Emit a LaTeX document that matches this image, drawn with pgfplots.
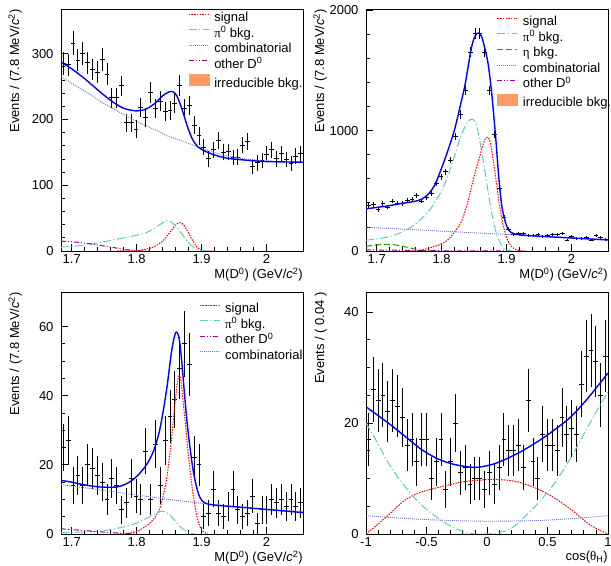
\documentclass[border=0pt]{standalone}
\usepackage{fontspec}
\setmainfont{Liberation Sans}
\newfontfamily\grk{Liberation Serif}
\usepackage{pgfplots}
\usepackage{pgfplotstable}
\pgfplotsset{compat=1.18}

\definecolor{sigcol}{RGB}{255,0,0}
\definecolor{picol}{RGB}{95,200,200}
\definecolor{etacol}{RGB}{51,153,0}
\definecolor{combcol}{RGB}{120,120,200}
\definecolor{othcol}{RGB}{150,0,150}
\definecolor{irrcol}{RGB}{255,153,102}
\definecolor{totcol}{RGB}{0,0,255}

\newcommand{\fs}{\fontsize{13bp}{15bp}\selectfont}
\newcommand{\mlabel}{M(D\textsuperscript{0}) (GeV/\textit{c}\textsuperscript{2})}
\newcommand{\evlabel}{Events / (7.8 MeV/\textit{c}\textsuperscript{2})}

% mass spectra: bin centre, then value and error for the three mass plots
\pgfplotstableread{
x y1 e1 y2 e2 y3 e3
1.6872 285 16.9 378 19.4 25 6.75
1.6947 283 16.8 387 19.7 27 7.0
1.7021 316 17.8 342 18.5 14 5.3
1.7096 290 17.0 392 19.8 17 5.7
1.7171 300 17.3 364 19.1 14 5.3
1.7245 286 16.9 415 20.4 20 6.1
1.7320 276 16.6 398 19.9 19 6.0
1.7394 272 16.5 392 19.8 17 5.7
1.7469 291 17.1 420 20.5 15 5.5
1.7544 269 16.4 428 20.7 10 4.6
1.7618 233 15.3 462 21.5 16 5.6
1.7693 233 15.3 415 20.4 14 5.3
1.7767 251 15.8 448 21.2 7 4.0
1.7842 195 14.0 482 22.0 9 4.45
1.7917 195 14.0 560 23.7 16 5.6
1.7991 185 13.6 616 24.8 11 4.8
1.8066 218 14.8 658 25.7 10 4.6
1.8141 203 14.2 756 27.5 24 6.6
1.8215 241 15.5 952 30.9 10 4.6
1.8290 217 14.7 1134 33.7 26 6.9
1.8364 228 15.1 1336 36.6 14 5.3
1.8439 212 14.6 1653 40.7 27 7.0
1.8514 214 14.6 1807 42.5 34 7.7
1.8588 225 15.0 1807 42.5 39 8.2
1.8663 252 15.9 1653 40.7 48 9.0
1.8737 216 14.7 1331 36.5 55 9.5
1.8812 221 14.9 966 31.1 49 9.05
1.8887 191 13.8 518 22.8 22 6.4
1.8961 175 13.2 280 16.7 20 6.1
1.9036 158 12.6 182 13.5 5 3.6
1.9110 140 11.8 140 11.8 6 3.8
1.9185 154 12.4 146 12.1 13 5.1
1.9260 168 13.0 146 12.1 6 3.8
1.9334 150 12.2 126 11.2 5 3.6
1.9409 151 12.3 132 11.5 8 4.25
1.9484 142 11.9 134 11.6 13 5.1
1.9558 143 12.0 118 10.9 7 4.0
1.9633 161 12.7 126 11.2 5 3.6
1.9707 167 12.9 140 11.8 6 3.8
1.9782 128 11.3 134 11.6 11 4.8
1.9857 134 11.6 146 12.1 3 3.0
1.9931 138 11.7 90 9.5 7 4.0
2.0006 147 12.1 118 10.9 7 4.0
2.0080 154 12.4 104 10.2 10 4.6
2.0155 140 11.8 104 10.2 9 4.45
2.0230 148 12.2 112 10.6 10 4.6
2.0304 139 11.8 90 9.5 8 4.25
2.0379 133 11.5 126 11.2 10 4.6
2.0453 144 12.0 112 10.6 8 4.25
2.0528 148 12.2 95 9.7 9 4.45
}\massdata

% helicity angle
\pgfplotstableread{
x y e
-0.98 17 4.8
-0.94 26 5.9
-0.90 24 5.7
-0.86 25 5.8
-0.82 22 5.5
-0.78 24 5.7
-0.74 23 5.6
-0.70 21 5.3
-0.66 16 4.7
-0.62 17 4.8
-0.58 13 4.3
-0.54 17 4.8
-0.50 17 4.8
-0.46 10 3.8
-0.42 13 4.3
-0.38 17 4.8
-0.34 8 3.4
-0.30 13 4.3
-0.26 20 5.2
-0.22 11 3.9
-0.18 12 4.1
-0.14 9 3.6
-0.10 10 3.8
-0.06 10 3.8
-0.02 8 3.4
0.02 11 3.9
0.06 9 3.6
0.10 12 4.1
0.14 17 4.8
0.18 15 4.6
0.22 15 4.6
0.26 16 4.7
0.30 12 4.1
0.34 24 5.7
0.38 13 4.3
0.42 10 3.8
0.46 18 5.0
0.50 16 4.7
0.54 16 4.7
0.58 15 4.6
0.62 21 5.3
0.66 18 5.0
0.70 19 5.1
0.74 18 5.0
0.78 27 6.0
0.82 32 6.5
0.86 33 6.6
0.90 31 6.4
0.94 25 5.8
0.98 32 6.5
}\angdata

\pgfplotsset{
  rootax/.style={
    width=242bp, height=242bp, scale only axis, anchor=south west,
    axis line style={line width=0.8bp},
    tick align=inside, tick pos=left,
    major tick length=7bp, minor tick length=3.5bp,
    tick style={black, line width=0.8bp},
    tick label style={font=\fs},
    yticklabel style={xshift=-4bp},
    /pgf/number format/assume math mode=true,
    /pgf/number format/1000 sep={},
    label style={font=\fs},
    xlabel style={at={(rel axis cs:1,0)}, anchor=north east, inner sep=0pt, yshift=-17bp},
    ylabel style={at={([xshift=-39bp]rel axis cs:0,1)}, anchor=south east, inner sep=0pt},
    legend style={draw=none, fill=none, anchor=north west, font=\fs,
      inner sep=0pt, row sep=3bp,
      nodes={inner sep=0pt, text height=9.5bp, text depth=3bp},
      /tikz/every odd column/.append style={column sep=5bp}},
    legend cell align=left,
    legend image code/.code={\draw[##1] (0bp,4bp) -- (20bp,4bp);},
  },
  massax/.style={rootax, xmin=1.6835, xmax=2.0563,
    xtick={1.7,1.8,1.9,2}, minor x tick num=4, xlabel={\mlabel}, ylabel={\evlabel}},
  dat/.style={black, only marks, mark=*, mark size=0pt, forget plot,
    error bars/.cd, x dir=both, x fixed=#1, y dir=both, y explicit,
    error mark=none, error bar style={black, line width=0.9bp}},
  tot/.style={totcol, line width=1.4bp, smooth, forget plot},
  sig/.style={sigcol, line width=1bp, dash pattern=on 1.5bp off 1.2bp, smooth},
  pibk/.style={picol, line width=1bp, dash pattern=on 8bp off 2.5bp on 1.2bp off 2.5bp, smooth},
  etabk/.style={etacol, line width=1.1bp, dash pattern=on 6bp off 3bp, smooth},
  comb/.style={combcol, line width=0.9bp, dash pattern=on 1bp off 1bp, smooth},
  othd/.style={othcol, line width=1bp, dash pattern=on 5bp off 2bp on 1bp off 2bp on 1bp off 2bp, smooth},
}

\begin{document}
\begin{tikzpicture}
\path[use as bounding box] (0,0) rectangle (611bp,566bp);

% ---------------- top left ----------------
\begin{axis}[massax, at={(61bp,315bp)}, ymin=0, ymax=368,
  ytick={0,100,200,300}, minor y tick num=4,
  legend style={at={(rel axis cs:0.525,0.988)}}]
\addplot[dat=0.00373] table[x=x, y=y1, y error=e1] {\massdata};
\addplot[sig] coordinates {(1.77,0) (1.80,0.5) (1.81,2) (1.82,4) (1.83,8) (1.84,15) (1.85,27) (1.857,36) (1.863,42) (1.868,43) (1.873,39) (1.879,29) (1.885,18) (1.892,7) (1.898,2) (1.905,0) (1.92,0)};
\addlegendentry{signal}
\addplot[pibk] coordinates {(1.6835,6) (1.70,7) (1.72,9) (1.744,13) (1.765,17) (1.785,21) (1.80,24) (1.815,28) (1.83,36) (1.84,43) (1.846,46) (1.852,45) (1.86,38) (1.868,28) (1.877,16) (1.885,8) (1.892,3) (1.90,0.5) (1.91,0)};
\addlegendentry{{\grk π}\textsuperscript{0} bkg.}
\addplot[comb] coordinates {(1.6835,265) (1.70,255) (1.72,243) (1.733,235) (1.75,224) (1.77,213) (1.785,205) (1.80,197) (1.82,188) (1.836,181) (1.85,174) (1.874,166) (1.90,156) (1.93,147) (1.96,141) (2.0,137) (2.0563,135)};
\addlegendentry{combinatorial}
\addplot[othd] coordinates {(1.6835,15) (1.70,14) (1.72,12) (1.744,8.5) (1.76,6) (1.775,3.5) (1.79,1.5) (1.80,0.5) (1.82,0)};
\addlegendentry{other D\textsuperscript{0}}
\addlegendimage{legend image code/.code={\fill[irrcol] (0bp,-1.5bp) rectangle (20bp,9.5bp);}}
\addlegendentry{irreducible bkg.}
\addplot[tot] coordinates {(1.6835,287) (1.70,277) (1.72,262) (1.74,245) (1.76,229) (1.78,217) (1.80,213) (1.815,216) (1.83,226) (1.84,236) (1.85,242) (1.856,242) (1.862,236) (1.87,215) (1.878,190) (1.886,170) (1.895,158) (1.905,152) (1.92,146) (1.94,141) (1.97,138) (2.0,136) (2.0563,135)};
\end{axis}

% ---------------- top right ----------------
\begin{axis}[massax, at={(366bp,315bp)}, ymin=0, ymax=2010,
  ytick={0,1000,2000}, minor y tick num=4,
  legend style={at={(rel axis cs:0.54,0.971)}}]
\addplot[dat=0.00373] table[x=x, y=y2, y error=e2] {\massdata};
\addplot[sig] coordinates {(1.75,0) (1.76,3) (1.774,14) (1.79,40) (1.80,60) (1.81,95) (1.82,160) (1.831,252) (1.84,400) (1.846,532) (1.853,680) (1.86,810) (1.866,920) (1.871,944) (1.875,900) (1.879,770) (1.883,620) (1.887,460) (1.891,320) (1.895,210) (1.899,130) (1.903,75) (1.908,35) (1.913,14) (1.92,3) (1.93,0)};
\addlegendentry{signal}
\addplot[pibk] coordinates {(1.6835,90) (1.70,100) (1.72,120) (1.74,160) (1.76,225) (1.78,330) (1.79,410) (1.80,500) (1.81,630) (1.82,790) (1.83,960) (1.84,1070) (1.848,1095) (1.854,1040) (1.86,880) (1.867,650) (1.872,480) (1.877,320) (1.882,190) (1.887,105) (1.892,50) (1.897,18) (1.903,4) (1.91,0)};
\addlegendentry{{\grk π}\textsuperscript{0} bkg.}
\addplot[etabk] coordinates {(1.6835,38) (1.695,48) (1.71,55) (1.725,52) (1.74,40) (1.755,20) (1.765,8) (1.775,2) (1.785,0)};
\addlegendentry{{\grk η} bkg.}
\addplot[comb] coordinates {(1.6835,197) (1.75,179) (1.80,165) (1.85,151) (1.90,138) (1.95,124) (2.0,110) (2.0563,95)};
\addlegendentry{combinatorial}
\addplot[othd] coordinates {(1.6835,10) (1.72,7) (1.76,4) (1.80,2) (1.85,0.5) (1.90,0)};
\addlegendentry{other D\textsuperscript{0}}
\addlegendimage{legend image code/.code={\fill[irrcol] (0bp,-1.5bp) rectangle (20bp,9.5bp);}}
\addlegendentry{irreducible bkg.}
\addplot[tot] coordinates {(1.6835,350) (1.70,362) (1.72,377) (1.733,390) (1.75,405) (1.76,414) (1.77,432) (1.78,475) (1.79,555) (1.80,690) (1.81,840) (1.82,1010) (1.828,1190) (1.836,1380) (1.846,1690) (1.852,1790) (1.857,1810) (1.862,1775) (1.868,1650) (1.872,1541) (1.877,1317) (1.883,960) (1.888,616) (1.893,364) (1.90,210) (1.907,154) (1.92,134) (1.94,126) (1.97,117) (2.0,108) (2.03,99) (2.0563,92)};
\end{axis}

% ---------------- bottom left ----------------
\begin{axis}[massax, at={(61bp,32bp)}, ymin=0, ymax=70,
  ytick={0,20,40,60}, minor y tick num=3,
  legend style={at={(rel axis cs:0.57,0.955)}}]
\addplot[dat=0.00373] table[x=x, y=y3, y error=e3] {\massdata};
\addplot[sig] coordinates {(1.77,0) (1.79,0.3) (1.80,0.7) (1.82,3.1) (1.835,7) (1.845,14.7) (1.852,24.4) (1.858,36) (1.864,45) (1.868,44.5) (1.874,34) (1.88,22.5) (1.886,12.8) (1.893,5) (1.90,1.2) (1.91,0)};
\addlegendentry{signal}
\addplot[pibk] coordinates {(1.6835,0.4) (1.72,0.6) (1.75,1) (1.79,2.5) (1.815,4.5) (1.83,6) (1.84,6.6) (1.85,5.7) (1.86,3.6) (1.87,1.6) (1.88,0.4) (1.89,0)};
\addlegendentry{{\grk π}\textsuperscript{0} bkg.}
\addplot[othd] coordinates {(1.6835,1.5) (1.72,1) (1.76,0.4) (1.80,0)};
\addlegendentry{other D\textsuperscript{0}}
\addplot[comb] coordinates {(1.6835,14.3) (1.75,12.6) (1.80,11.3) (1.85,10) (1.90,8.9) (1.95,8) (2.0,7.2) (2.0563,6.5)};
\addlegendentry{combinatorial}
\addplot[tot] coordinates {(1.6835,15.5) (1.70,15) (1.72,14.2) (1.744,13.6) (1.769,13.6) (1.785,14.6) (1.80,16.6) (1.815,20) (1.826,24) (1.836,30.5) (1.846,41.5) (1.854,53) (1.860,58.2) (1.865,57) (1.869,51) (1.874,40) (1.879,30) (1.887,18.5) (1.895,11.8) (1.903,9.2) (1.918,8.4) (1.95,7.9) (2.0,7.1) (2.0563,6.2)};
\end{axis}

% ---------------- bottom right ----------------
\begin{axis}[rootax, at={(366bp,32bp)}, xmin=-1, xmax=1, ymin=0, ymax=43.6,
  xtick={-1,-0.5,0,0.5,1}, minor x tick num=4,
  ytick={0,20,40}, minor y tick num=3,
  xlabel={cos({\grk θ}\textsubscript{H})}, ylabel={Events / ( 0.04 )}]
\addplot[dat=0.02] table[x=x, y=y, y error=e] {\angdata};
\addplot[sig, forget plot] coordinates {(-1,0) (-0.9,1.8) (-0.8,3.7) (-0.68,6.1) (-0.55,7.5) (-0.4,8.4) (-0.2,9.4) (0,9.8) (0.1,9.8) (0.2,9.6) (0.3,9.1) (0.42,8.1) (0.55,6.6) (0.7,4.3) (0.835,1.9) (0.92,0.8) (1,0)};
\addplot[pibk, forget plot] coordinates {(-1,20) (-0.9,16.2) (-0.816,12.8) (-0.68,8.6) (-0.54,5.2) (-0.4,2.8) (-0.265,1) (-0.13,0.1) (-0.02,0) (0.09,0.2) (0.2,1) (0.31,3.1) (0.42,5.5) (0.56,9.2) (0.7,14) (0.835,19.4) (1,25.7)};
\addplot[comb, forget plot] coordinates {(-1,3.3) (-0.75,2.9) (-0.5,2.6) (-0.25,2.4) (0,2.3) (0.25,2.35) (0.5,2.5) (0.75,2.85) (1,3.3)};
\addplot[tot] coordinates {(-1,22.9) (-0.816,20) (-0.678,17.6) (-0.54,15.2) (-0.403,13.5) (-0.265,12.5) (-0.1,12) (0.037,12.5) (0.147,13.4) (0.285,14.9) (0.422,16.7) (0.56,18.8) (0.697,21.2) (0.835,24.5) (1,29)};
\end{axis}
\end{tikzpicture}
\end{document}
